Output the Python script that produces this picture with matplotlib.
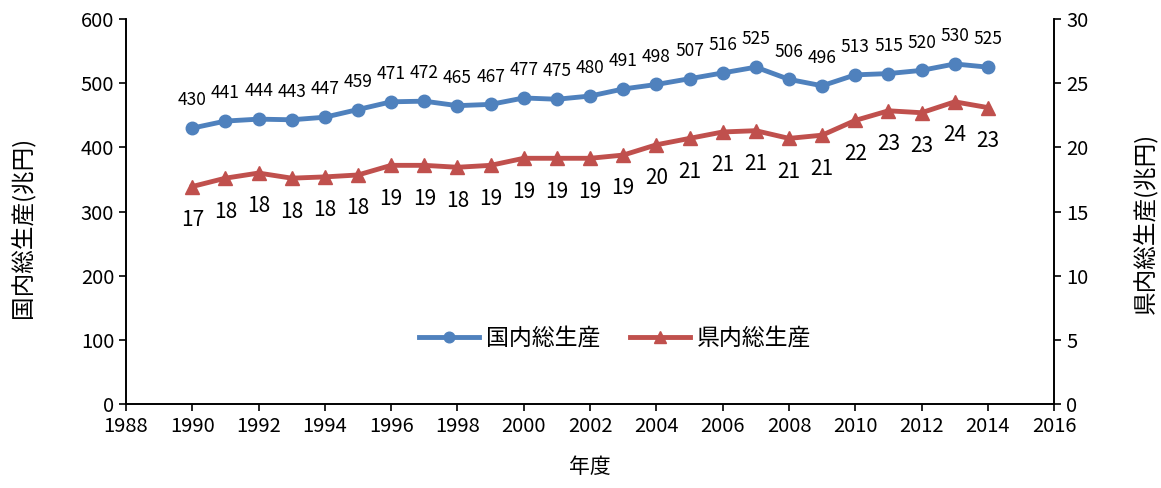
import matplotlib.pyplot as plt
import numpy as np

plt.rcParams['font.family'] = ['Noto Sans CJK JP', 'DejaVu Sans']

years = np.arange(1990, 2015)
gdp = [430, 441, 444, 443, 447, 459, 471, 472, 465, 467, 477, 475, 480,
       491, 498, 507, 516, 525, 506, 496, 513, 515, 520, 530, 525]
pref = [16.95, 17.6, 18.0, 17.6, 17.7, 17.85, 18.6, 18.6, 18.45, 18.6,
        19.15, 19.15, 19.15, 19.4, 20.2, 20.7, 21.2, 21.3, 20.7, 20.95,
        22.1, 22.85, 22.7, 23.55, 23.1]

blue = '#4F81BD'
red = '#C0504D'

fig = plt.figure(figsize=(11.61, 4.88), dpi=100)
ax = fig.add_axes([0.1085, 0.172, 0.7995, 0.789])
ax2 = ax.twinx()

l1, = ax.plot(years, gdp, color=blue, lw=3.5, marker='o', ms=9,
              label='国内総生産')
l2, = ax2.plot(years, pref, color=red, lw=3.5, marker='^', ms=10,
               label='県内総生産')

for x, v in zip(years, gdp):
    ax.annotate(f'{v:.0f}', (x, v), xytext=(0, 20), textcoords='offset points',
                ha='center', va='center', fontsize=12.5)
for x, v in zip(years, pref):
    ax2.annotate(f'{v:.0f}', (x, v), xytext=(0, -24), textcoords='offset points',
                 ha='center', va='center', fontsize=15)

ax.set_xlim(1988, 2016)
ax.set_xticks(np.arange(1988, 2017, 2))
ax.set_ylim(0, 600)
ax.set_yticks(np.arange(0, 601, 100))
ax2.set_ylim(0, 30)
ax2.set_yticks(np.arange(0, 31, 5))

for a in (ax, ax2):
    a.tick_params(labelsize=14.5, direction='out', length=5, width=1.2)
    for s in a.spines.values():
        s.set_linewidth(1.2)
ax.spines['top'].set_visible(False)
ax2.spines['top'].set_visible(False)

ax.set_xlabel('年度', fontsize=15, labelpad=14)
ax.set_ylabel('国内総生産(兆円)', fontsize=17, labelpad=33)
ax2.set_ylabel('県内総生産(兆円)', fontsize=17, labelpad=32)
ax.yaxis.label.set_y(0.46)
ax2.yaxis.label.set_y(0.47)

ax.legend(handles=[l1, l2], loc='center', bbox_to_anchor=(0.527, 0.171),
          ncol=2, frameon=False, fontsize=16.5, handlelength=2.6,
          handletextpad=0.3, columnspacing=1.3, markerscale=0.85)

fig.savefig('out.png', dpi=100)
